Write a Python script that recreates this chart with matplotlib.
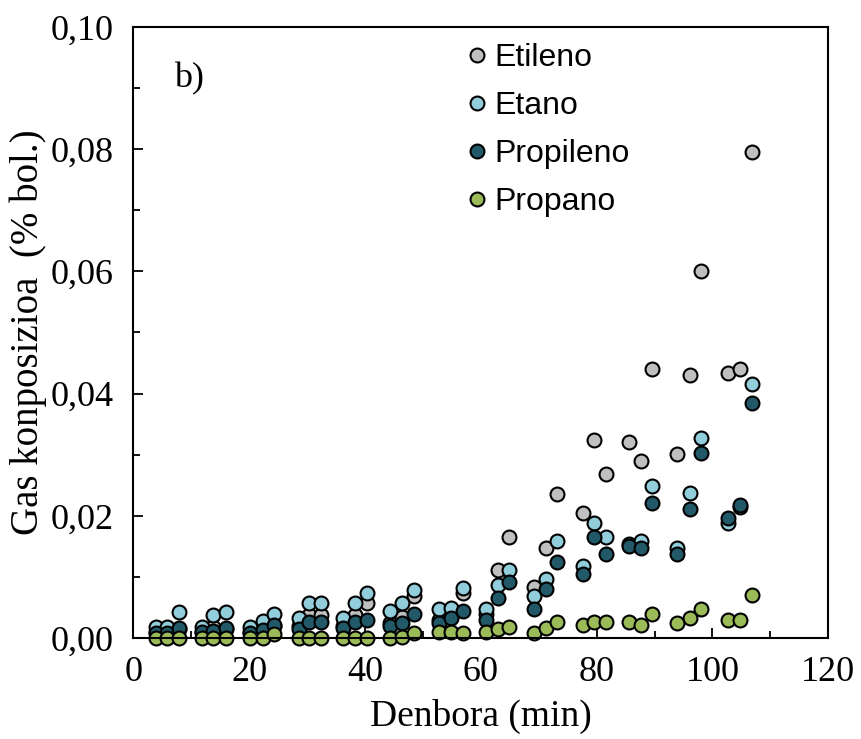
import numpy as np
import matplotlib.pyplot as plt
from matplotlib.ticker import MultipleLocator, FuncFormatter

# time (min)
denbora = [3.9, 5.8, 7.9, 11.8, 13.8, 15.9, 20.2, 22.3, 24.3, 28.6, 30.4, 32.4,
           36.2, 38.3, 40.4, 44.3, 46.3, 48.4, 52.8, 54.9, 57.0, 60.9, 62.9, 64.9,
           69.2, 71.2, 73.2, 77.7, 79.6, 81.6, 85.6, 87.6, 89.6, 93.9, 96.1, 98.1,
           102.7, 104.7, 106.8]

etileno = [0.0010, 0.0010, 0.0015, 0.0010, 0.0018, 0.0015, 0.0010, 0.0018, 0.0020,
           0.0020, 0.0038, 0.0038, 0.0020, 0.0038, 0.0057, 0.0025, 0.0035, 0.0068,
           0.0029, 0.0035, 0.0073, 0.0040, 0.0111, 0.0165, 0.0084, 0.0148, 0.0236,
           0.0204, 0.0324, 0.0268, 0.0320, 0.0290, 0.0440, 0.0301, 0.0430, 0.0601,
           0.0433, 0.0441, 0.0795]

etano = [0.0018, 0.0018, 0.0043, 0.0018, 0.0038, 0.0042, 0.0018, 0.0028, 0.0040,
         0.0033, 0.0058, 0.0058, 0.0032, 0.0058, 0.0073, 0.0044, 0.0058, 0.0079,
         0.0047, 0.0049, 0.0081, 0.0047, 0.0087, 0.0111, 0.0068, 0.0096, 0.0158,
         0.0118, 0.0188, 0.0165, 0.0153, 0.0158, 0.0249, 0.0148, 0.0237, 0.0327,
         0.0188, 0.0214, 0.0416]

propileno = [0.0008, 0.0008, 0.0016, 0.0010, 0.0012, 0.0016, 0.0008, 0.0013, 0.0022,
             0.0015, 0.0026, 0.0026, 0.0016, 0.0026, 0.0029, 0.0020, 0.0024, 0.0040,
             0.0024, 0.0033, 0.0044, 0.0030, 0.0066, 0.0092, 0.0047, 0.0080, 0.0125,
             0.0104, 0.0166, 0.0137, 0.0151, 0.0147, 0.0221, 0.0137, 0.0211, 0.0303,
             0.0196, 0.0217, 0.0384]

propano = [0, 0, 0, 0, 0, 0, 0, 0, 0.0007,
           0, 0, 0, 0, 0, 0, 0, 0.0001, 0.0008,
           0.0009, 0.0009, 0.0008, 0.0009, 0.0014, 0.0018, 0.0008, 0.0017, 0.0026,
           0.0022, 0.0026, 0.0026, 0.0026, 0.0021, 0.0039, 0.0024, 0.0033, 0.0047,
           0.0029, 0.0029, 0.0070]

series = [("Etileno", etileno, "#C0C0C0"),
          ("Etano", etano, "#92CDDC"),
          ("Propileno", propileno, "#215968"),
          ("Propano", propano, "#9BBB59")]

fig = plt.figure(figsize=(8.61, 7.39), dpi=100)
ax = fig.add_axes([0.155, 0.1367, 0.807, 0.8268])

for name, vals, col in series:
    ax.plot(denbora, vals, linestyle='none', marker='o', markersize=10,
            markerfacecolor=col, markeredgecolor='black', markeredgewidth=1.5,
            label=name, clip_on=False)

ax.set_xlim(0, 120)
ax.set_ylim(0, 0.10)
ax.xaxis.set_major_locator(MultipleLocator(20))
ax.xaxis.set_minor_locator(MultipleLocator(10))
ax.yaxis.set_major_locator(MultipleLocator(0.02))
ax.yaxis.set_minor_locator(MultipleLocator(0.01))
ax.yaxis.set_major_formatter(FuncFormatter(lambda v, p: f"{v:.2f}".replace('.', ',')))
ax.tick_params(which='both', direction='in', labelsize=26, width=1.3)
ax.tick_params(which='major', length=7)
ax.tick_params(axis='x', which='major', pad=13)
ax.tick_params(axis='y', which='major', pad=14)
ax.tick_params(which='minor', length=5)
for lab in ax.get_xticklabels() + ax.get_yticklabels():
    lab.set_family('Liberation Serif')
for sp in ax.spines.values():
    sp.set_linewidth(1.5)

ax.set_xlabel('Denbora (min)', family='Liberation Serif', fontsize=27, labelpad=7)
ax.set_ylabel('Gas konposizioa  (% bol.)', family='Liberation Serif', fontsize=28, labelpad=3)

ax.text(0.058, 0.915, 'b)', transform=ax.transAxes, family='Liberation Serif',
        fontsize=26, va='center')

ax.legend(loc='upper left', bbox_to_anchor=(0.471, 0.974), frameon=False,
          prop={'family': 'Liberation Sans', 'size': 23}, handletextpad=0.05,
          labelspacing=0.57, markerscale=1.0, handlelength=1.0,
          borderpad=0, borderaxespad=0)

fig.savefig('out.png', dpi=100)
